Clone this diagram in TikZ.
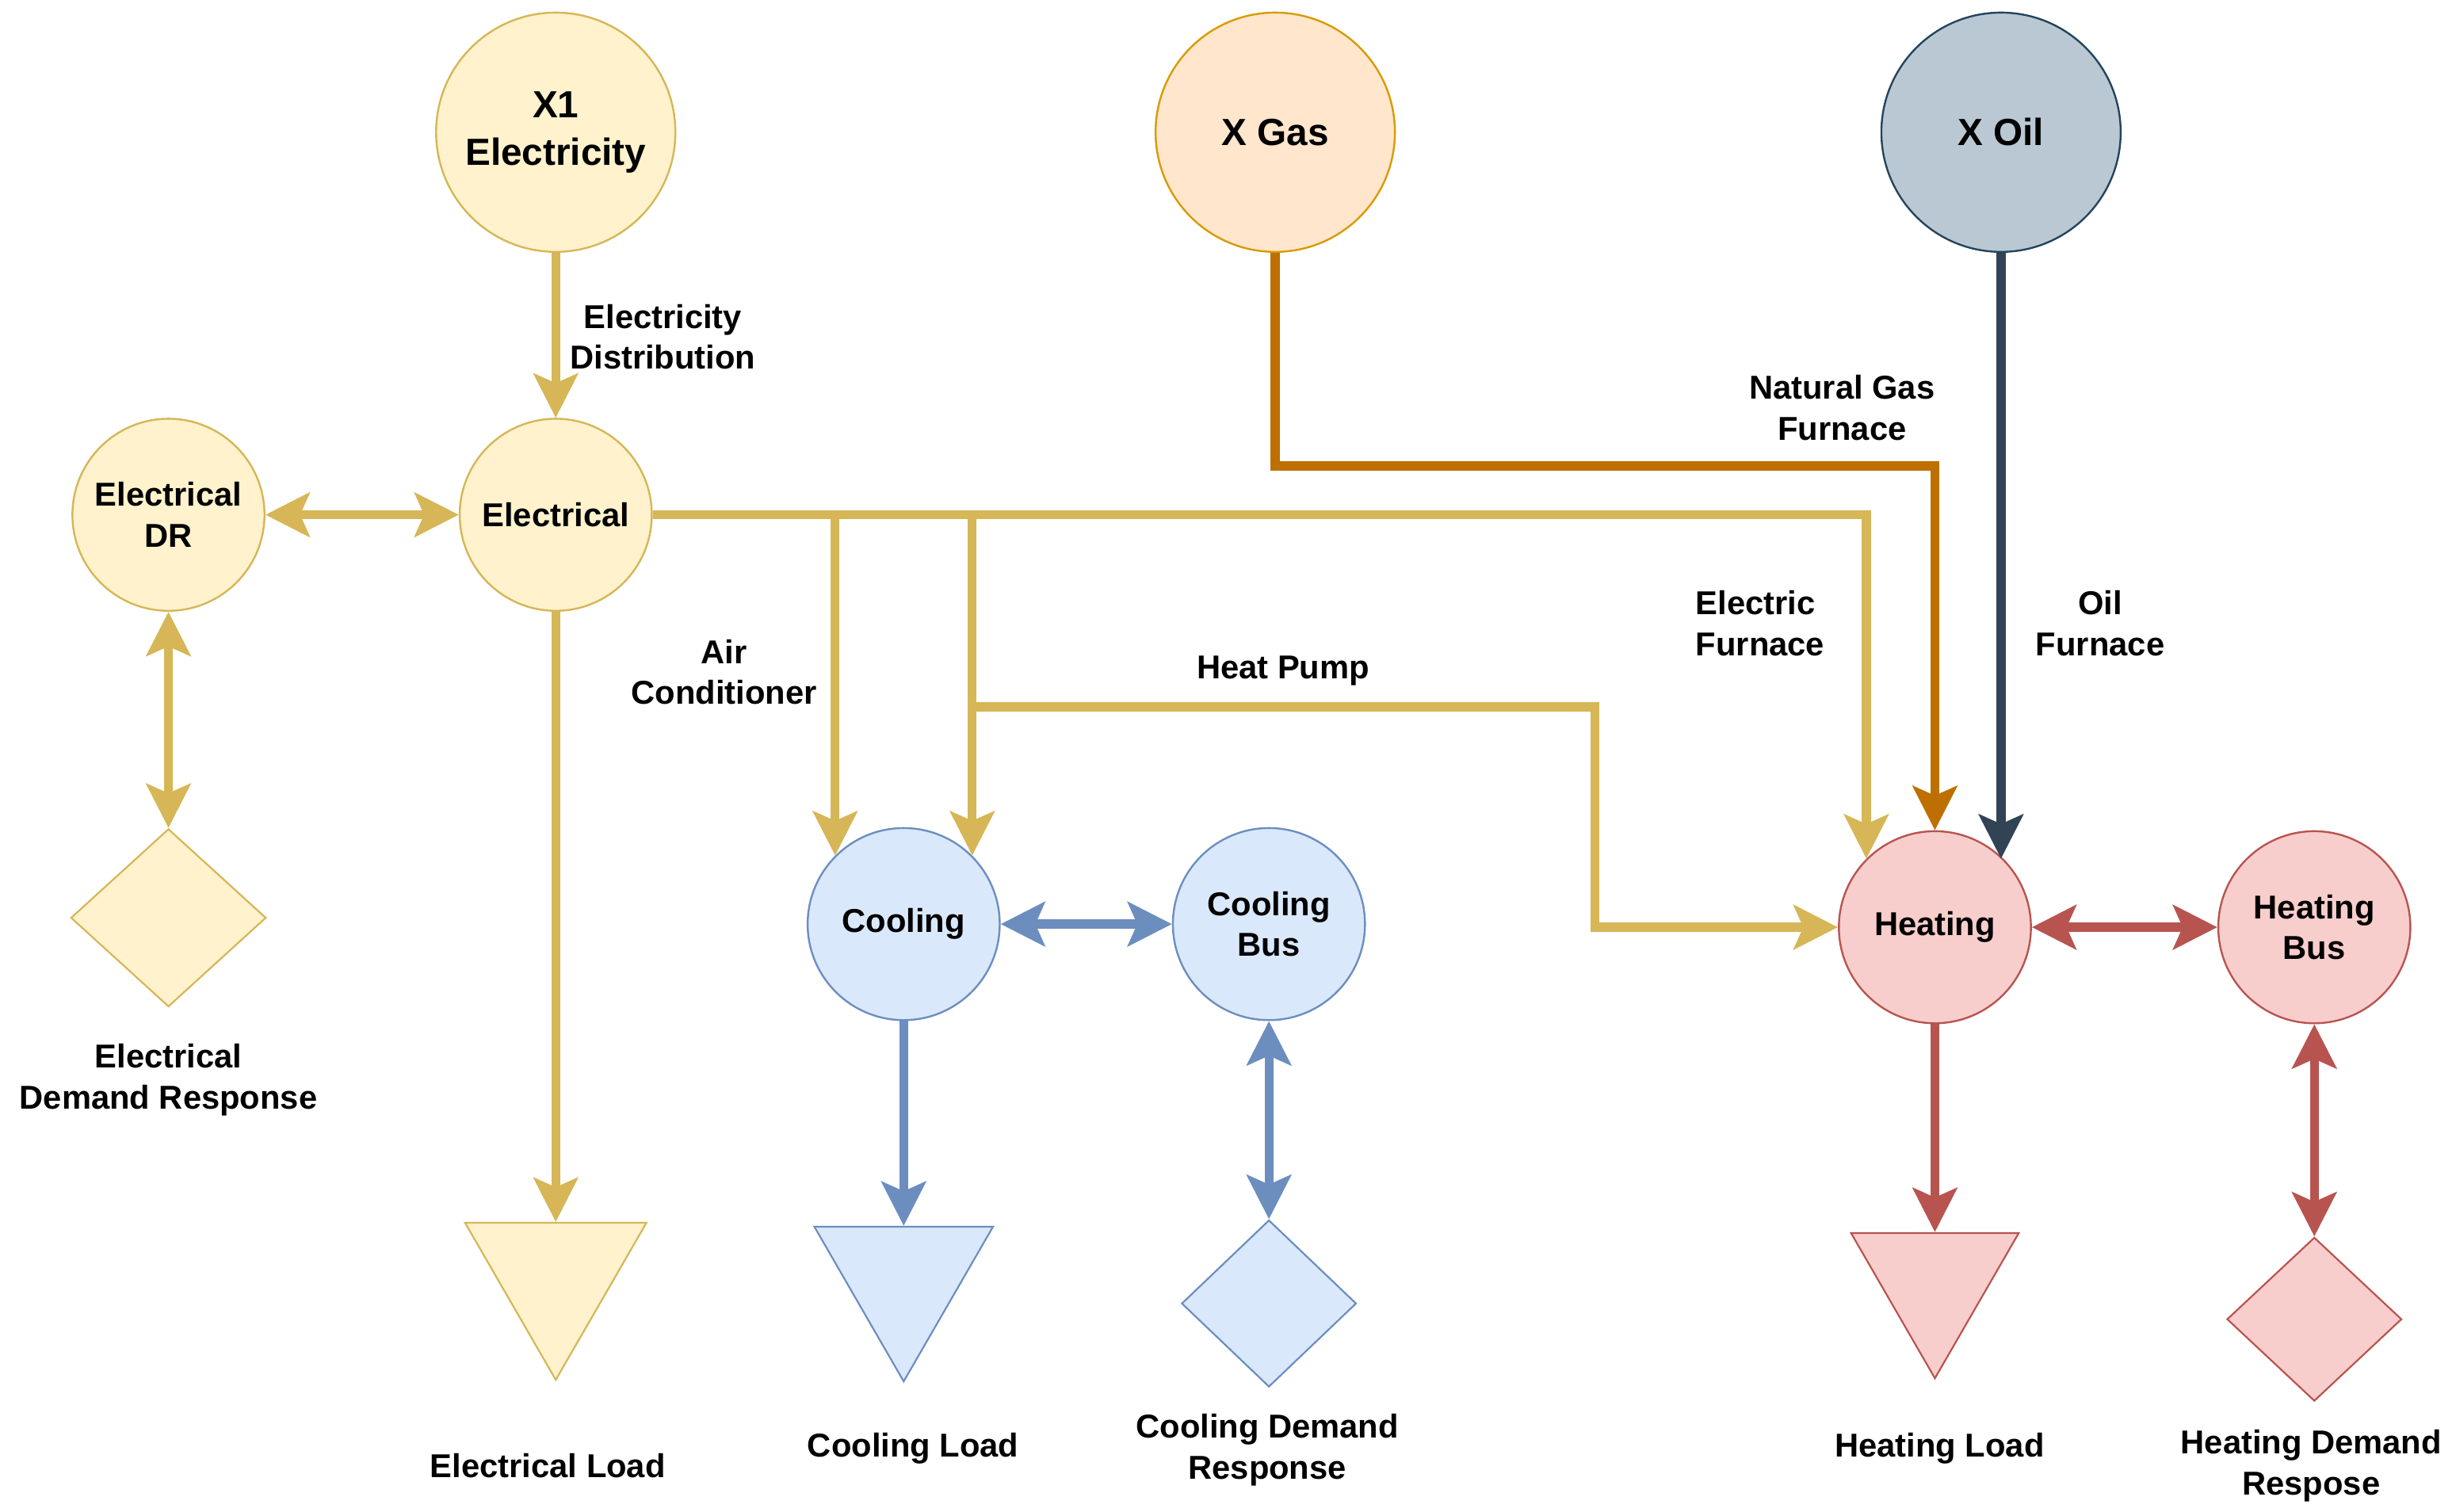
\documentclass[tikz,border=0pt]{standalone}
\usepackage{fontspec}
\setmainfont{Liberation Sans}
\usepackage{tikz}
\usetikzlibrary{arrows.meta}
\usetikzlibrary{shapes.geometric}
\usetikzlibrary{calc}
\definecolor{yelfill}{HTML}{FFF2CC}
\definecolor{yelline}{HTML}{D6B656}
\definecolor{ornfill}{HTML}{FFE6CC}
\definecolor{ornline}{HTML}{D79B00}
\definecolor{slafill}{HTML}{BAC8D3}
\definecolor{slaline}{HTML}{23445D}
\definecolor{blufill}{HTML}{DAE8FC}
\definecolor{bluline}{HTML}{6C8EBF}
\definecolor{hotfill}{HTML}{F8CECC}
\definecolor{hotline}{HTML}{B85450}
\definecolor{gasline}{HTML}{BD7000}
\definecolor{oilline}{HTML}{314354}
\tikzstyle{busnode}=[circle,draw,minimum size=122pt,inner sep=0pt,line width=1.2pt,align=center,font=\fontsize{21}{26}\selectfont\bfseries]
\tikzstyle{srcnode}=[busnode,minimum size=152pt,font=\fontsize{24}{30}\selectfont\bfseries]
\tikzstyle{loadnode}=[regular polygon,regular polygon sides=3,shape border rotate=180,draw,inner sep=0pt,line width=1.1pt]
\tikzstyle{drnode}=[diamond,draw,inner sep=0pt,line width=1.1pt]
\tikzstyle{lbl}=[align=center,font=\fontsize{21}{26}\selectfont\bfseries]
\tikzstyle{flow}=[draw,line width=5.7pt]
\tikzstyle{yel}=[fill=yelfill,draw=yelline]
\tikzstyle{orn}=[fill=ornfill,draw=ornline]
\tikzstyle{sla}=[fill=slafill,draw=slaline]
\tikzstyle{blu}=[fill=blufill,draw=bluline]
\tikzstyle{hot}=[fill=hotfill,draw=hotline]

\begin{document}
\begin{tikzpicture}[x=1pt,y=-1pt,>={Stealth[length=28pt,width=28pt,inset=6pt]}]

  \useasboundingbox (0,0) rectangle (1560,960);

  % carriers
  \foreach \x/\y/\name/\sty/\label in {353/84/xel/yel/{X1\\Electricity}, 810/84/xgas/orn/{X Gas}, 1271/84/xoil/sla/{X Oil}}
     \node[srcnode,\sty] (\name) at (\x,\y) {\label};

  % buses
  \foreach \x/\y/\name/\sty/\label in {107/327/eldr/yel/{Electrical\\DR}, 353/327/elbus/yel/Electrical, 574/587/cool/blu/Cooling, 806/587/coolbus/blu/{Cooling\\Bus}, 1229/589/heat/hot/Heating, 1470/589/heatbus/hot/{Heating\\Bus}}
     \node[busnode,\sty] (\name) at (\x,\y) {\label};

  % loads
  \foreach \x/\y/\s/\name/\sty in {353/810/133/elload/yel, 574/812/131/coolload/blu, 1229/814/123/heatload/hot}
     \node[loadnode,\sty,minimum size=\s pt] (\name) at (\x,\y) {};

  % demand response
  \foreach \x/\y/\w/\h/\name/\sty in {107/583/124/113/eldrdr/yel, 806/828/111/106/cooldr/blu, 1470/838/111/104/heatdr/hot}
     \node[drnode,\sty,minimum width=\w pt,minimum height=\h pt] (\name) at (\x,\y) {};

  % texts
  \foreach \x/\y/\name/\label in {107/686/teldr/{Electrical\\Demand Response}, 348/931/telload/{Electrical Load}, 580/920/tcoolload/{Cooling Load}, 805/921/tcooldr/{Cooling Demand\\Response}, 1232/920/theatload/{Heating Load}, 1468/931/theatdr/{Heating Demand\\Respose}, 421/214/tdist/{Electricity\\Distribution}, 460/427/tac/{Air\\Conditioner}, 815/426/thp/{Heat Pump}, 1170/259/tgas/{Natural Gas\\Furnace}, 1334/396/toil/{Oil\\Furnace}}
     \node[lbl] (\name) at (\x,\y) {\label};
  \node[lbl,align=left] (tefurn) at (1118,396) {Electric\\Furnace};

  % electricity
  \draw[flow,yelline,->] (xel) -- (elbus);
  \draw[flow,yelline,<->] (eldr) -- (elbus);
  \draw[flow,yelline,<->] (eldr) -- (eldrdr);
  \draw[flow,yelline,->] (elbus) -- (elload);
  \draw[flow,yelline,->] (elbus.east) -| (heat.north west);
  \draw[flow,yelline,->] (elbus.east -| cool.north west) -- (cool.north west);
  \draw[flow,yelline,->] (elbus.east -| cool.north east) -- (cool.north east);
  \coordinate (hpturn) at (1013,449);
  \draw[flow,yelline,->] (cool.north east |- hpturn) -- (hpturn) |- (heat.west);

  % gas and oil
  \coordinate (gasturn) at (1229,296);
  \draw[flow,gasline,->] (xgas.south) |- (gasturn) -- (heat.north);
  \draw[flow,oilline,->] (xoil.south) -- (xoil.south |- heat.north east);

  % cooling
  \draw[flow,bluline,<->] (cool) -- (coolbus);
  \draw[flow,bluline,->] (cool) -- (coolload);
  \draw[flow,bluline,<->] (coolbus) -- (cooldr);

  % heating
  \draw[flow,hotline,<->] (heat) -- (heatbus);
  \draw[flow,hotline,->] (heat) -- (heatload);
  \draw[flow,hotline,<->] (heatbus) -- (heatdr);

\end{tikzpicture}
\end{document}
